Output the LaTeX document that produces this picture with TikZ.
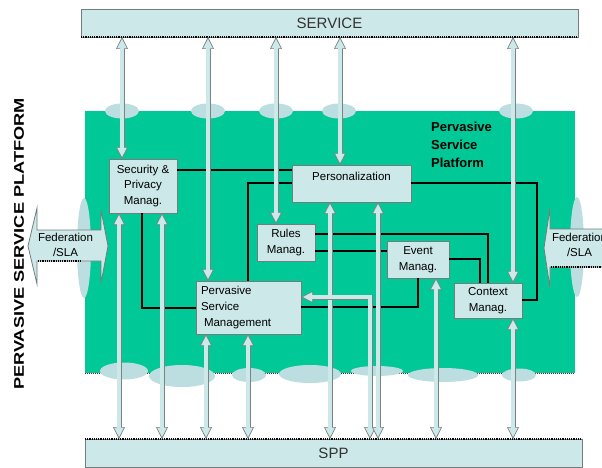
\documentclass[tikz,border=0pt]{standalone}
\usepackage{fontspec}
\setmainfont{Liberation Sans}
\usetikzlibrary{arrows.meta}
\definecolor{pgreen}{RGB}{0,200,150}
\definecolor{boxfill}{RGB}{204,232,232}
\definecolor{ellfill}{RGB}{188,222,225}
\definecolor{agray}{RGB}{120,132,132}
\definecolor{bgray}{RGB}{115,125,125}
\definecolor{dred}{RGB}{110,30,30}
\begin{document}
\begin{tikzpicture}[x=1pt,y=-1pt,
  box/.style={draw=bgray, line width=0.8pt, fill=boxfill, inner sep=0pt, outer sep=0pt,
    font=\fontsize{11.5}{15.5}\selectfont, align=center, text=black},
  bar/.style={draw=bgray, line width=0.8pt, fill=boxfill, inner sep=0pt, outer sep=0pt,
    font=\fontsize{15}{15}\selectfont, text={rgb,255:red,50;green,50;blue,50}},
  bt/.tip={Triangle[length=12pt 0, width=12pt 0, line width=0.7pt 0, fill=boxfill]},
  barrow/.style={draw=agray, line width=5pt, {bt}-{bt},
    postaction={draw=boxfill, line width=3.2pt, shorten >=11pt, shorten <=11pt, -}},
  conn/.style={draw=black, line width=1.6pt},
  thinconn/.style={draw=black, line width=1.2pt},
  cloud/.style={fill=ellfill, draw=none},
  fedshape/.style={fill=boxfill, draw=bgray, line width=0.8pt},
  fedtext/.style={font=\fontsize{11.5}{15}\selectfont, align=center, inner sep=0pt},
  shadow/.style={draw=black, densely dotted, line width=1.2pt}
]
\useasboundingbox (0,0) rectangle (602,468);

% platform area
\fill[pgreen] (85,111) rectangle (575,373);
\draw[dred, densely dotted, line width=1pt] (85,373) -- (575,373);

% clouds on the top edge
\foreach \cx in {122,208,276,339,516}
  \fill[cloud] (\cx,111) ellipse [x radius=17, y radius=7.5];
% clouds on the bottom edge
\fill[cloud] (124,371) ellipse [x radius=24, y radius=8.5];
\fill[cloud] (182,376) ellipse [x radius=33, y radius=11];
\fill[cloud] (249,375) ellipse [x radius=17, y radius=7];
\fill[cloud] (310,374) ellipse [x radius=31, y radius=9];
\fill[cloud] (377,371) ellipse [x radius=26, y radius=5];
\fill[cloud] (443,375) ellipse [x radius=35, y radius=7];
\fill[cloud] (519,375) ellipse [x radius=17, y radius=6.5];
% clouds on the sides
\fill[cloud] (84,248) ellipse [x radius=7, y radius=50];
\fill[cloud] (577,247) ellipse [x radius=7, y radius=50];

% vertical title
\node[font=\bfseries\fontsize{14}{14}\selectfont, rotate=90, inner sep=0pt] (title) at (19,244)
  {\scalebox{1.3}[1]{PERVASIVE SERVICE PLATFORM}};

% platform label
\node[font=\bfseries\fontsize{13}{18}\selectfont, align=left, anchor=north west, inner sep=0pt] (plat)
  at (431,121.5) {Pervasive\\Service\\Platform};

% Federation / SLA block arrows
\draw[fedshape] (28,246) -- (37,208) -- (37,230) -- (101,230) -- (101,210) -- (108,246)
  -- (101,283) -- (101,261) -- (37,261) -- (37,284) -- cycle;
\draw[shadow] (38,261) -- (80,261);
\node[fedtext] (fedL) at (65.5,244.5) {Federation\\/SLA};
\draw[fedshape] (544,248) -- (550,208) -- (550,229) -- (640,229) -- (640,267)
  -- (550,267) -- (550,288) -- cycle;
\draw[shadow] (551,267) -- (602,267);
\node[fedtext] (fedR) at (579.5,244.5) {Federation\\/SLA};

% top and bottom bars
\node[bar, minimum width=497pt, minimum height=28pt] (service) at (329.5,23) {SERVICE};
\draw[shadow] (service.south west) -- (service.south east);
\node[bar, minimum width=497pt, minimum height=28pt] (spp) at (333.5,453) {SPP};
\draw[shadow] (spp.north west) -- (spp.north east);

% component boxes
\node[box, minimum width=68pt, minimum height=54pt] (sec) at (143,186) {Security \&\\Privacy\\Manag.};
\node[box, minimum width=119pt, minimum height=37pt] (pers) at (351.5,183.5) {};
\node[font=\fontsize{11.5}{14}\selectfont, inner sep=0pt] (perstext) at (351.5,176.5) {Personalization};
\node[box, minimum width=58pt, minimum height=37pt] (rules) at (286,242.5) {Rules\\Manag.};
\node[box, minimum width=62pt, minimum height=37pt] (event) at (418,259.5) {Event\\Manag.};
\node[box, minimum width=68pt, minimum height=35pt] (ctx) at (488,300.5) {Context\\Manag.};
\node[box, minimum height=53pt, text width=95pt, inner xsep=5pt, align=left,
  font=\fontsize{11.5}{16}\selectfont] (psm) at (248.5,307.5)
  {Pervasive\\Service\\\hspace*{3pt}Management};

% black connectors
\draw[thinconn] (sec.east |- 0,170) -- (pers.west |- 0,170);
\draw[conn] (pers.west |- 0,183) -| (248,0 |- psm.north);
\draw[conn] (142,0 |- sec.south) |- (psm.west |- 0,308);
\draw[conn] (psm.east |- 0,307) -| (event.south);
\draw[conn, line width=2pt] (rules.east |- 0,234) -| (ctx.north);
\draw[thinconn] (rules.east |- 0,251) -- (event.west |- 0,251);
\draw[conn] (event.east |- 0,259) -| (480,0 |- ctx.north);
\coordinate (c8) at (537,300);
\draw[thinconn] (pers.east |- 0,183) -| (c8) -- (ctx.east |- c8);

% block arrows from SERVICE
\draw[barrow] (122,0 |- service.south) -- (122,0 |- sec.north);
\draw[barrow] (208,0 |- service.south) -- (208,0 |- psm.north);
\draw[barrow] (276,0 |- service.south) -- (276,0 |- rules.north);
\draw[barrow] (340,0 |- service.south) -- (340,0 |- pers.north);
\draw[barrow] (513,0 |- service.south) -- (513,0 |- ctx.north);

% block arrows to SPP
\draw[barrow] (119,0 |- sec.south) -- (119,0 |- spp.north);
\draw[barrow] (162,0 |- sec.south) -- (162,0 |- spp.north);
\draw[barrow] (206,0 |- psm.south) -- (206,0 |- spp.north);
\draw[barrow] (248,0 |- psm.south) -- (248,0 |- spp.north);
\draw[barrow] (330,0 |- pers.south) -- (330,0 |- spp.north);
\coordinate (c7) at (370,297);
\draw[barrow] (c7 |- spp.north) -- (c7) -- (psm.east |- c7);
\draw[barrow] (378,0 |- pers.south) -- (378,0 |- spp.north);
\draw[barrow] (436,0 |- event.south) -- (436,0 |- spp.north);
\draw[barrow] (513,0 |- ctx.south) -- (513,0 |- spp.north);
\end{tikzpicture}
\end{document}
